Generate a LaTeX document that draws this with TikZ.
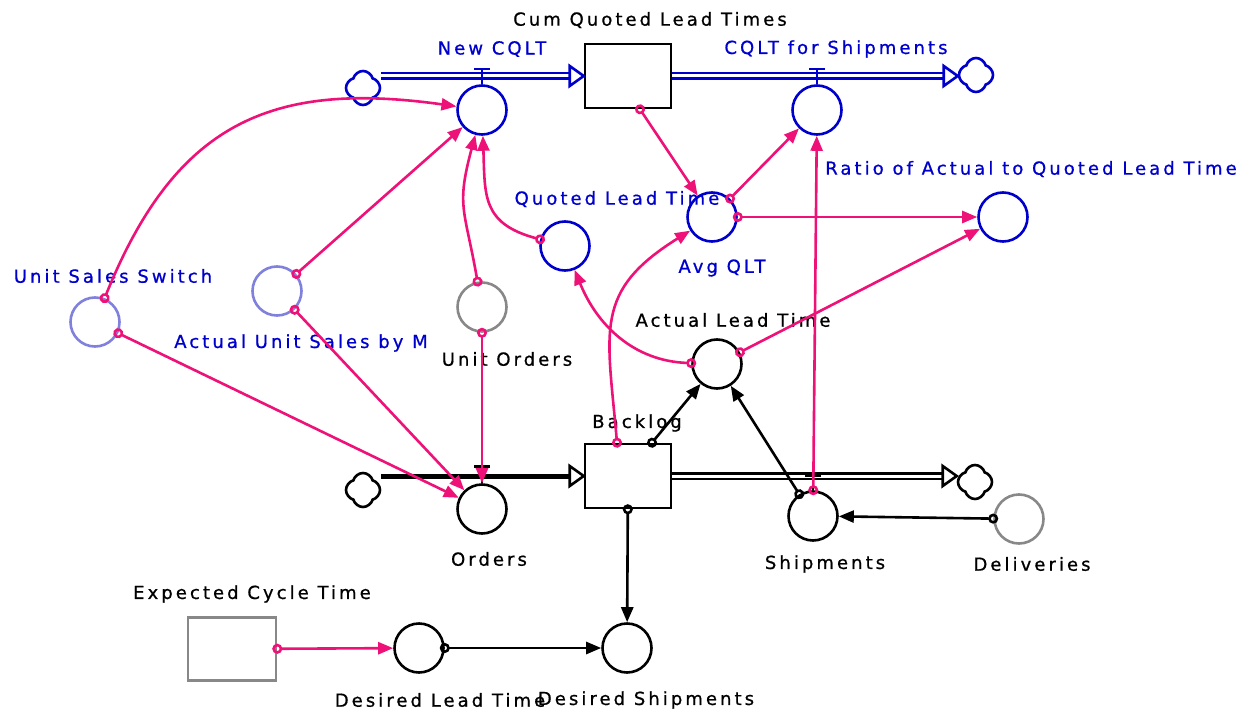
\documentclass[tikz,border=0pt]{standalone}
\usepackage{fontspec}
\newfontfamily\vensim[LetterSpace=17, FakeBold=0.8]{DejaVu Sans}
\usetikzlibrary{arrows.meta, shapes.symbols, positioning}
\definecolor{vblue}{HTML}{0000CC}
\definecolor{vpink}{HTML}{EE1177}
\definecolor{vlight}{HTML}{8080DD}
\definecolor{vgray}{HTML}{888888}
\tikzset{
  every node/.style={font=\vensim\fontsize{18}{21}\selectfont},
  aux/.style={circle, draw, line width=2.6pt, minimum size=49pt, inner sep=0pt},
  stock/.style={rectangle, draw, line width=2.6pt, minimum width=86pt, minimum height=64pt},
  sink/.style={cloud, cloud puffs=4, aspect=1, draw, line width=2.6pt, minimum width=34pt, minimum height=34pt, inner sep=0pt},
  lbl/.style={inner sep=0pt},
  link/.style={draw=vpink, line width=2.6pt, {Circle[open, length=10pt, width=10pt]}-{Triangle[length=15pt, width=12pt]}, shorten <=-5pt},
  blink/.style={link, draw=black},
  pipe/.style={double=white, double distance=3pt, line width=2.6pt},
  valve/.style={line width=2.6pt},
}

\begin{document}
\begin{tikzpicture}[x=1pt, y=1pt]
\useasboundingbox (0,0) rectangle (1246,-711);

% Stocks and clouds
\node (cqlt) [stock] at (628,-76) {};
\node (backlog) [stock] at (628,-476) {};
\node (ect) [stock, draw=vgray, minimum width=88pt, minimum height=63pt] at (232,-649) {};
\node (ca) [sink, vblue] at (363,-88) {};
\node (cb) [sink, vblue] at (976,-75) {};
\node (cc) [sink] at (363,-490) {};
\node (cd) [sink] at (975,-482) {};

% Variables
\node (nc) [aux, vblue] at (482,-110) {};
\node (cs) [aux, vblue] at (817,-110) {};
\node (avg) [aux, vblue] at (712,-217) {};
\node (qlt) [aux, vblue] at (565,-246) {};
\node (ratio) [aux, vblue] at (1003,-217) {};
\node (uss) [aux, vlight] at (95,-322) {};
\node (ausm) [aux, vlight] at (277,-291) {};
\node (uo) [aux, vgray] at (482,-307) {};
\node (alt) [aux] at (717,-364) {};
\node (ord) [aux] at (482,-509) {};
\node (ship) [aux] at (813,-516) {};
\node (del) [aux, vgray] at (1019,-519) {};
\node (dlt) [aux] at (419,-648) {};
\node (dship) [aux] at (627,-648) {};

% Labels
\node (lcqlt) [lbl] at (650,-20) {Cum Quoted Lead Times};
\node (lnc) [lbl, vblue] at (492,-49) {New CQLT};
\node (lcs) [lbl, vblue] at (836,-49) {CQLT for Shipments};
\node (lqlt) [lbl, vblue] at (617,-199) {Quoted Lead Time};
\node (lavg) [lbl, vblue] at (722,-268) {Avg QLT};
\node (lratio) [lbl, vblue] at (1031,-169) {Ratio of Actual to Quoted Lead Time};
\node (luss) [lbl, vblue] at (113,-276) {Unit Sales Switch};
\node (lausm) [lbl, vblue] at (301,-343) {Actual Unit Sales by M};
\node (luo) [lbl] at (507,-359) {Unit Orders};
\node (lalt) [lbl] at (733,-320) {Actual Lead Time};
\node (lbacklog) [lbl] at (637,-423) {Backlog};
\node (lord) [lbl] at (489,-559) {Orders};
\node (lship) [lbl] at (825,-564) {Shipments};
\node (ldel) [lbl] at (1032,-564) {Deliveries};
\node (lect) [lbl] at (252,-594) {Expected Cycle Time};
\node (ldlt) [lbl] at (440,-700) {Desired Lead Time};
\node (ldship) [lbl] at (646,-700) {Desired Shipments};

% Flows
\draw [pipe, vblue] (ca.east |- cqlt.west) -- ([xshift=-14pt]cqlt.west);
\draw [vblue, line width=2.6pt, fill=white] (cqlt.west) -- ++(-14,10) -- ++(0,-20) -- cycle;
\draw [pipe, vblue] (cqlt.east) -- ([xshift=-14pt]cb.west |- cqlt.east);
\draw [vblue, line width=2.6pt, fill=white] (cb.west |- cqlt.east) -- ++(-14,10) -- ++(0,-20) -- cycle;
\draw [line width=5pt] (cc.east |- backlog.west) -- ([xshift=-14pt]backlog.west);
\draw [line width=2.6pt, fill=white] (backlog.west) -- ++(-14,10) -- ++(0,-20) -- cycle;
\draw [pipe] (backlog.east) -- ([xshift=-14pt]cd.west |- backlog.east);
\draw [line width=2.6pt, fill=white] (cd.west |- backlog.east) -- ++(-14,10) -- ++(0,-20) -- cycle;

% Valves
\draw [valve, vblue] (nc.north) -- ++(0,15) ++(-8,0) -- ++(16,0);
\draw [valve, vblue] (cs.north) -- ++(0,15) ++(-8,0) -- ++(16,0);
\draw [valve] (ord.north) -- ++(0,17) ++(-8,0) -- ++(16,0);
\draw [valve] (ship.north) -- ++(0,15) ++(-8,0) -- ++(16,0);

% Connectors
\draw [link] (uss) to[out=68, in=172, looseness=1.2] (nc);
\draw [link] (uss) -- (ord);
\draw [link] (ausm) -- (nc);
\draw [link] (ausm) -- (ord);
\draw [link] (uo) to[out=100, in=255, looseness=1.3] (nc);
\draw [link] (uo) -- (ord);
\draw [link] (qlt) to[out=165, in=272, looseness=1.3] (nc);
\draw [link] (alt) to[out=178, in=292] (qlt);
\draw [link] ([xshift=-11pt]backlog.north) to[out=95, in=212, looseness=1.3] (avg);
\draw [link] ([xshift=12pt]cqlt.south) -- (avg);
\draw [link] (avg) -- (cs);
\draw [link] (avg) -- (ratio);
\draw [link] (alt) -- (ratio);
\draw [link] (ship) -- (cs);
\draw [link] (ect) -- (dlt);

\draw [blink] ([xshift=24pt]backlog.north) -- (alt);
\draw [blink] (ship) -- (alt);
\draw [blink] (del) -- (ship);
\draw [blink] (backlog) -- (dship);
\draw [blink] (dlt) -- (dship);

\end{tikzpicture}
\end{document}
